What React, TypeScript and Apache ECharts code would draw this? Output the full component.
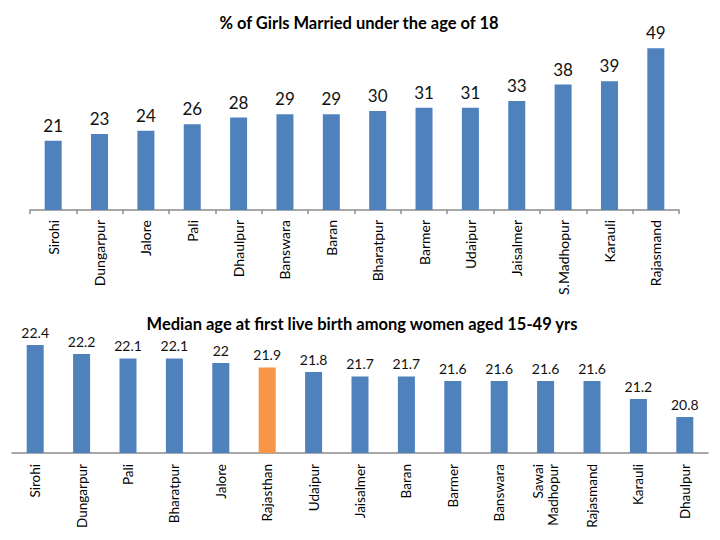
import React, { useEffect, useRef } from "react";
import * as echarts from "echarts";

const topTitle = "% of Girls Married under the age of 18";
const topCategories = [
  "Sirohi", "Dungarpur", "Jalore", "Pali", "Dhaulpur", "Banswara", "Baran",
  "Bharatpur", "Barmer", "Udaipur", "Jaisalmer", "S.Madhopur", "Karauli", "Rajasmand",
];
const topValues = [21, 23, 24, 26, 28, 29, 29, 30, 31, 31, 33, 38, 39, 49];

const bottomTitle = "Median age at first live birth among women aged 15-49 yrs";
const bottomCategories = [
  "Sirohi", "Dungarpur", "Pali", "Bharatpur", "Jalore", "Rajasthan", "Udaipur",
  "Jaisalmer", "Baran", "Barmer", "Banswara", "Sawai\nMadhopur", "Rajasmand", "Karauli", "Dhaulpur",
];
const bottomValues = [22.4, 22.2, 22.1, 22.1, 22, 21.9, 21.8, 21.7, 21.7, 21.6, 21.6, 21.6, 21.6, 21.2, 20.8];
const highlightCategory = "Rajasthan";

const BLUE = "#4F81BD";
const ORANGE = "#F79646";
const FONT = "Lato";

export default function App() {
  const ref = useRef<HTMLDivElement>(null);
  useEffect(() => {
    if (!ref.current) return;
    const chart = echarts.init(ref.current, null, { renderer: "svg" });
    chart.setOption({
      animation: false,
      backgroundColor: "#ffffff",
      title: [
        {
          text: topTitle,
          left: 354,
          textAlign: "center",
          top: 9,
          textStyle: { fontFamily: FONT, fontWeight: "bold", fontSize: 16.5, color: "#000" },
        },
        {
          text: bottomTitle,
          left: 360,
          textAlign: "center",
          top: 313,
          padding: 2,
          textStyle: { fontFamily: FONT, fontWeight: "bold", fontSize: 16.5, lineHeight: 18, color: "#000" },
        },
      ],
      grid: [
        { left: 30, top: 45, width: 649, height: 165 },
        { left: 12, top: 340.5, width: 696, height: 112.5 },
      ],
      xAxis: [
        {
          type: "category",
          gridIndex: 0,
          data: topCategories,
          axisLine: { lineStyle: { color: "#8c8c8c", width: 1.5 } },
          axisTick: { show: true, length: 4, lineStyle: { color: "#8c8c8c", width: 1.5 } },
          axisLabel: { rotate: 90, margin: 10, fontFamily: FONT, fontSize: 14, color: "#000", interval: 0 },
        },
        {
          type: "category",
          gridIndex: 1,
          data: bottomCategories,
          axisLine: { lineStyle: { color: "#8c8c8c", width: 1.5 } },
          axisTick: { show: false },
          axisLabel: { rotate: 90, margin: 11, fontFamily: FONT, fontSize: 13.5, color: "#000", interval: 0, lineHeight: 15 },
        },
      ],
      yAxis: [
        { type: "value", gridIndex: 0, min: 0, max: 50, show: false, splitLine: { show: false } },
        { type: "value", gridIndex: 1, min: 20, max: 22.5, show: false, splitLine: { show: false } },
      ],
      series: [
        {
          type: "bar",
          xAxisIndex: 0,
          yAxisIndex: 0,
          data: topValues,
          barWidth: 17,
          itemStyle: { color: BLUE },
          label: { show: true, position: "top", distance: 7, fontFamily: FONT, fontSize: 17, color: "#111" },
        },
        {
          type: "bar",
          xAxisIndex: 1,
          yAxisIndex: 1,
          data: bottomValues.map((v, i) => ({
            value: v,
            itemStyle: { color: bottomCategories[i] === highlightCategory ? ORANGE : BLUE },
          })),
          barWidth: 17,
          label: { show: true, position: "top", distance: 6, fontFamily: FONT, fontSize: 14, color: "#111" },
        },
      ],
    });
    return () => chart.dispose();
  }, []);
  return (
    <div
      ref={ref}
      style={{ position: "fixed", left: 0, top: 0, width: 720, height: 540, background: "#fff" }}
    />
  );
}
